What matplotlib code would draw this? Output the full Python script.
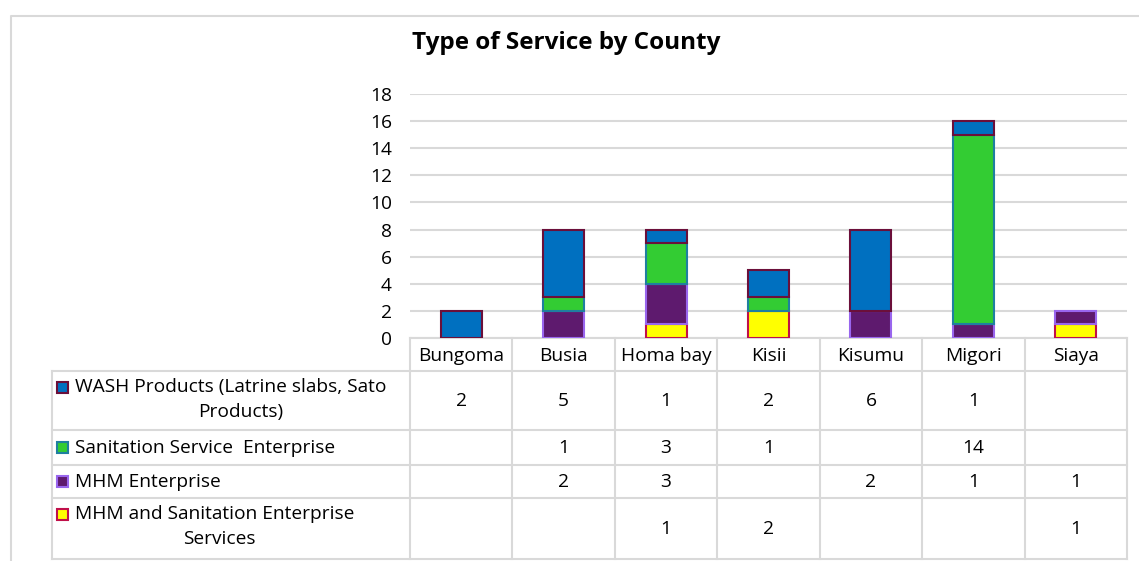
import matplotlib
matplotlib.use("Agg")
import matplotlib.pyplot as plt
from matplotlib.patches import Rectangle
import numpy as np

counties = ["Bungoma", "Busia", "Homa bay", "Kisii", "Kisumu", "Migori", "Siaya"]
series_names = [
    "WASH Products (Latrine slabs, Sato\nProducts)",
    "Sanitation Service  Enterprise",
    "MHM Enterprise",
    "MHM and Sanitation Enterprise\nServices",
]
wash = [2, 5, 1, 2, 6, 1, 0]
sanitation = [0, 1, 3, 1, 0, 14, 0]
mhm = [0, 2, 3, 0, 2, 1, 1]
mhm_san = [0, 0, 1, 2, 0, 0, 1]
yticks = [0, 2, 4, 6, 8, 10, 12, 14, 16, 18]
title = "Type of Service by County"

face = ["#0070C0", "#33CC33", "#5E1A6E", "#FFFF00"]
edge = ["#6B0F3A", "#1F7FA0", "#9966EE", "#C0104A"]

plt.rcParams['font.family'] = ['Open Sans', 'DejaVu Sans']
FS = 13.8

W, H = 1139, 561
fig = plt.figure(figsize=(W / 100, H / 100), dpi=100)

# pixel overlay
ov = fig.add_axes([0, 0, 1, 1])
ov.set_xlim(0, W)
ov.set_ylim(H, 0)
ov.axis("off")

grid_c = "#D9D9D9"
# outer frame (cropped at right and bottom)
ov.plot([11, 11, W + 5], [H + 5, 16, 16], color="#D9D9D9", lw=1.5, solid_capstyle="butt")

# bar axes
x0, x1 = 410, 1127
y0, y1 = 338, 94
ax = fig.add_axes([x0 / W, (H - y0) / H, (x1 - x0) / W, (y0 - y1) / H])
ax.set_xlim(-0.5, len(counties) - 0.5)
ax.set_ylim(0, 18)
ax.set_yticks(yticks)
ax.set_yticklabels([str(v) for v in yticks], fontsize=FS)
ax.tick_params(axis="y", length=0, pad=13)
ax.set_xticks([])
for s in ax.spines.values():
    s.set_visible(False)
ax.yaxis.grid(True, color=grid_c, lw=1.5)
ax.set_axisbelow(True)
ax.patch.set_alpha(0)

x = np.arange(len(counties))
bottom = np.zeros(len(counties))
stack = [(mhm_san, 3), (mhm, 2), (sanitation, 1), (wash, 0)]
for vals, i in stack:
    v = np.array(vals, dtype=float)
    mask = v > 0
    ax.bar(x[mask], v[mask], width=0.4, bottom=bottom[mask], color=face[i],
           edgecolor=edge[i], linewidth=1.5, zorder=3)
    bottom += v

ov.text(566, 43, title, ha="center", va="center", fontsize=17.5, fontweight="bold")

# data table
col_w = (x1 - x0) / len(counties)
row_edges = [338, 371, 430, 465, 498, 559]
left = 52
lw_t = 1.5
ov.plot([x0, x1], [row_edges[0]] * 2, color=grid_c, lw=lw_t)
for yy in row_edges[1:]:
    ov.plot([left, x1], [yy, yy], color=grid_c, lw=lw_t)
ov.plot([left, left], [row_edges[1], row_edges[-1]], color=grid_c, lw=lw_t)
for j in range(len(counties) + 1):
    xx = x0 + j * col_w
    ov.plot([xx, xx], [row_edges[0], row_edges[-1]], color=grid_c, lw=lw_t)

for j, c in enumerate(counties):
    ov.text(x0 + (j + 0.5) * col_w, (row_edges[0] + row_edges[1]) / 2 + 1, c,
            ha="center", va="center", fontsize=FS)

table_vals = [wash, sanitation, mhm, mhm_san]
second_line_x = {0: 241, 3: 219}
for r, vals in enumerate(table_vals):
    yc = (row_edges[r + 1] + row_edges[r + 2]) / 2
    for j, v in enumerate(vals):
        if v:
            ov.text(x0 + (j + 0.5) * col_w, yc, str(v), ha="center", va="center",
                    fontsize=FS)
    lines = series_names[r].split("\n")
    ky = yc if len(lines) == 1 else row_edges[r + 1] + 16
    ov.add_patch(Rectangle((57, ky - 5.5), 11, 11, facecolor=face[r],
                           edgecolor=edge[r], lw=1.5))
    ov.text(75, ky, lines[0], ha="left", va="center", fontsize=FS)
    if len(lines) > 1:
        ov.text(second_line_x[r], ky + 25, lines[1], ha="center", va="center",
                fontsize=FS)

fig.savefig("out.png", dpi=100)
